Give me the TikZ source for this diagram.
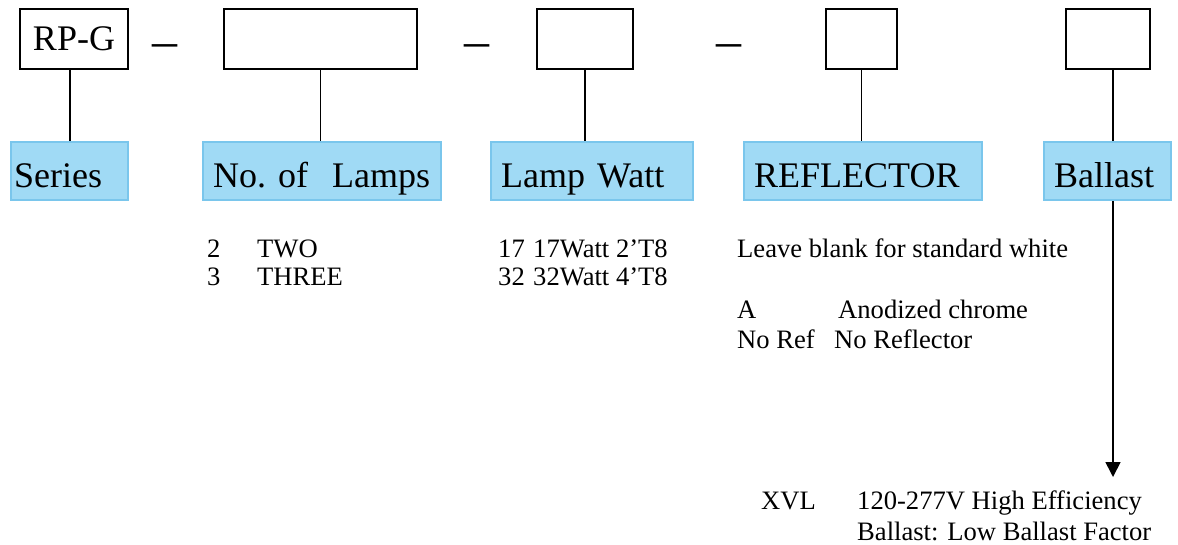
\documentclass[tikz,border=0pt]{standalone}
\usepackage{fontspec}
\setmainfont{Liberation Serif}
\usetikzlibrary{arrows.meta}
\definecolor{labelFill}{RGB}{160,218,245}
\definecolor{labelEdge}{RGB}{122,198,236}

\begin{document}
\begin{tikzpicture}[x=1pt, y=1pt,
  codebox/.style={draw, line width=1.6pt, minimum height=60pt, inner sep=0pt,
    font=\fontsize{36}{40}\selectfont},
  labelbox/.style={draw=labelEdge, fill=labelFill, line width=2.4pt, anchor=west,
    minimum height=58pt, inner xsep=10pt, inner ysep=0pt, text height=34pt,
    text depth=2pt, align=left, font=\fontsize{36}{40}\selectfont},
  dashsign/.style={anchor=base, inner sep=0pt, font=\fontsize{50}{50}\selectfont},
  item/.style={anchor=base west, inner sep=0pt, font=\fontsize{26.6}{28}\selectfont},
  link/.style={line width=1.7pt}]
  \newcommand{\codeSlot}[4]{
    \node[codebox, minimum width=#3pt] (#1) at (#2,-39) {#4};
  }
  \newcommand{\labelSlot}[5][]{
    \node[labelbox, text width=#4pt, #1] (#2) at (#3,-171) {\mbox{#5}};
  }

  \useasboundingbox (0,0) rectangle (1178,-544);

  \codeSlot{codeBox1}{74}{108}{RP-G}
  \codeSlot{codeBox2}{320.5}{193}{}
  \codeSlot{codeBox3}{585}{96}{}
  \codeSlot{codeBox4}{861.5}{71}{}
  \codeSlot{codeBox5}{1108}{84}{}

  \node[dashsign] (dash1) at (165,-57) {–};
  \node[dashsign] (dash2) at (476.5,-57) {–};
  \node[dashsign] (dash3) at (728.5,-57) {–};

  \labelSlot[inner xsep=3pt]{labelBox1}{10}{111}{Series}
  \labelSlot{labelBox2}{202}{218}{No.\ of~~Lamps}
  \labelSlot{labelBox3}{490}{182}{Lamp Watt}
  \labelSlot{labelBox4}{743}{218}{REFLECTOR}
  \labelSlot{labelBox5}{1043}{107}{Ballast}

  \coordinate (ballastLine) at (1113,0);
  \coordinate (ballastTip) at (1113,-477);

  \draw[link] (labelBox1.north |- codeBox1.south) -- (labelBox1.north);
  \foreach \i in {2,3,4}
    \draw[link] (codeBox\i.south) -- (codeBox\i.south |- labelBox\i.north);
  \draw[link] (codeBox5.south -| ballastLine) -- (labelBox5.north -| ballastLine);
  \draw[link, -{Triangle[width=15pt,length=15pt]}] (labelBox5.south -| ballastLine) -- (ballastTip);

  \node[item] (lampsCode1) at (207,-257) {2};
  \node[item] (lampsText1) at (257,-257) {TWO};
  \node[item] (lampsCode2) at (207,-285) {3};
  \node[item] (lampsText2) at (257,-285) {THREE};

  \node[item] (wattCode1) at (498,-257) {17};
  \node[item] (wattText1) at (533,-257) {17Watt 2’T8};
  \node[item] (wattCode2) at (498,-285) {32};
  \node[item] (wattText2) at (533,-285) {32Watt 4’T8};

  \node[item] (reflNote) at (737,-257) {Leave blank for standard white};
  \node[item] (reflCode1) at (737,-318) {A};
  \node[item] (reflText1) at (838,-318) {Anodized chrome};
  \node[item] (reflCode2) at (737,-348) {No Ref};
  \node[item] (reflText2) at (834,-348) {No Reflector};

  \node[item] (ballastCode) at (761,-509) {XVL};
  \node[item] (ballastText1) at (857,-509) {120-277V High Efficiency};
  \node[item] (ballastText2) at (857,-540) {Ballast: Low Ballast Factor};
\end{tikzpicture}
\end{document}
